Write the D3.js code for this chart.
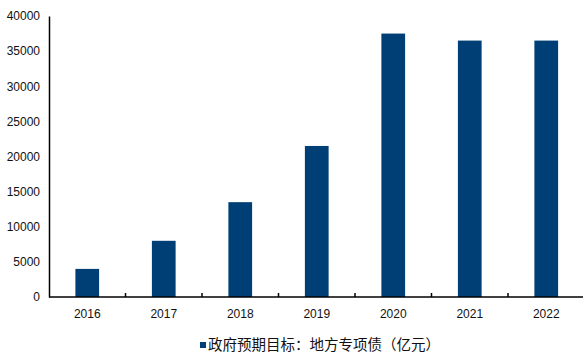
<!DOCTYPE html>
<html>
<head>
<meta charset="utf-8">
<script src="https://cdn.jsdelivr.net/npm/d3@7/dist/d3.min.js"></script>
<style>
  html, body { margin: 0; padding: 0; background: #fff; }
  svg { display: block; }
  .tick text { font-family: "Liberation Sans", Arial, sans-serif; }
</style>
</head>
<body>
<svg id="chart" width="583" height="353"></svg>
<script>
// Local special-purpose bond quota (100 million yuan)
const years = ["2016", "2017", "2018", "2019", "2020", "2021", "2022"];
const quota = [4000, 8000, 13500, 21500, 37500, 36500, 36500];
const yTicks = [0, 5000, 10000, 15000, 20000, 25000, 30000, 35000, 40000];
const legendLabel = "政府预期目标：地方专项债（亿元）";

const W = 583, H = 353;
const margin = { left: 49, right: -1.5, top: 16, bottom: 56 };
const svg = d3.select("#chart");

const x = d3.scaleBand()
  .domain(years)
  .range([margin.left, W - margin.right])
  .paddingInner(0.69)
  .paddingOuter(0.345);

// category slots without padding, used for the boundary ticks
const slot = d3.scaleBand().domain(years).range(x.range()).padding(0);

const y = d3.scaleLinear()
  .domain([0, 40000])
  .range([H - margin.bottom, margin.top]);

const barColor = "#003f75";

// bars
svg.append("g")
  .selectAll("rect")
  .data(years.map((yr, i) => ({ yr, v: quota[i] })))
  .join("rect")
  .attr("x", d => x(d.yr))
  .attr("width", x.bandwidth())
  .attr("y", d => y(d.v))
  .attr("height", d => y(0) - y(d.v))
  .attr("fill", barColor);

// y axis: line and labels, no tick marks
const yAxis = svg.append("g")
  .attr("transform", `translate(${margin.left},0)`)
  .call(d3.axisLeft(y).tickValues(yTicks).tickSize(0).tickPadding(9).tickFormat(d3.format("d")));
yAxis.select(".domain").attr("stroke", "#000").attr("stroke-width", 1.5);
yAxis.selectAll(".tick text").attr("font-size", 12).attr("fill", "#111");

// x axis: baseline with short inward ticks at category boundaries
const y0 = y(0);
svg.append("line")
  .attr("x1", margin.left).attr("x2", W)
  .attr("y1", y0).attr("y2", y0)
  .attr("stroke", "#000").attr("stroke-width", 1.5);

svg.append("g")
  .selectAll("line")
  .data(years.slice(1))
  .join("line")
  .attr("x1", d => slot(d)).attr("x2", d => slot(d))
  .attr("y1", y0).attr("y2", y0 - 4)
  .attr("stroke", "#000").attr("stroke-width", 1.5);

svg.append("g")
  .selectAll("text")
  .data(years)
  .join("text")
  .attr("x", d => x(d) + x.bandwidth() / 2)
  .attr("y", y0 + 21)
  .attr("text-anchor", "middle")
  .attr("font-family", "Liberation Sans, Arial, sans-serif")
  .attr("font-size", 12)
  .attr("fill", "#111")
  .text(d => d);

// legend
const lg = svg.append("g").attr("transform", "translate(200,345)");
lg.append("rect").attr("x", 0).attr("y", -3).attr("width", 6).attr("height", 6).attr("fill", barColor);
lg.append("text")
  .attr("x", 8).attr("y", 0)
  .attr("dy", "0.36em")
  .attr("font-family", "Noto Sans CJK SC, sans-serif")
  .attr("font-size", 14.5)
  .attr("fill", "#111")
  .text(legendLabel);
</script>
</body>
</html>
